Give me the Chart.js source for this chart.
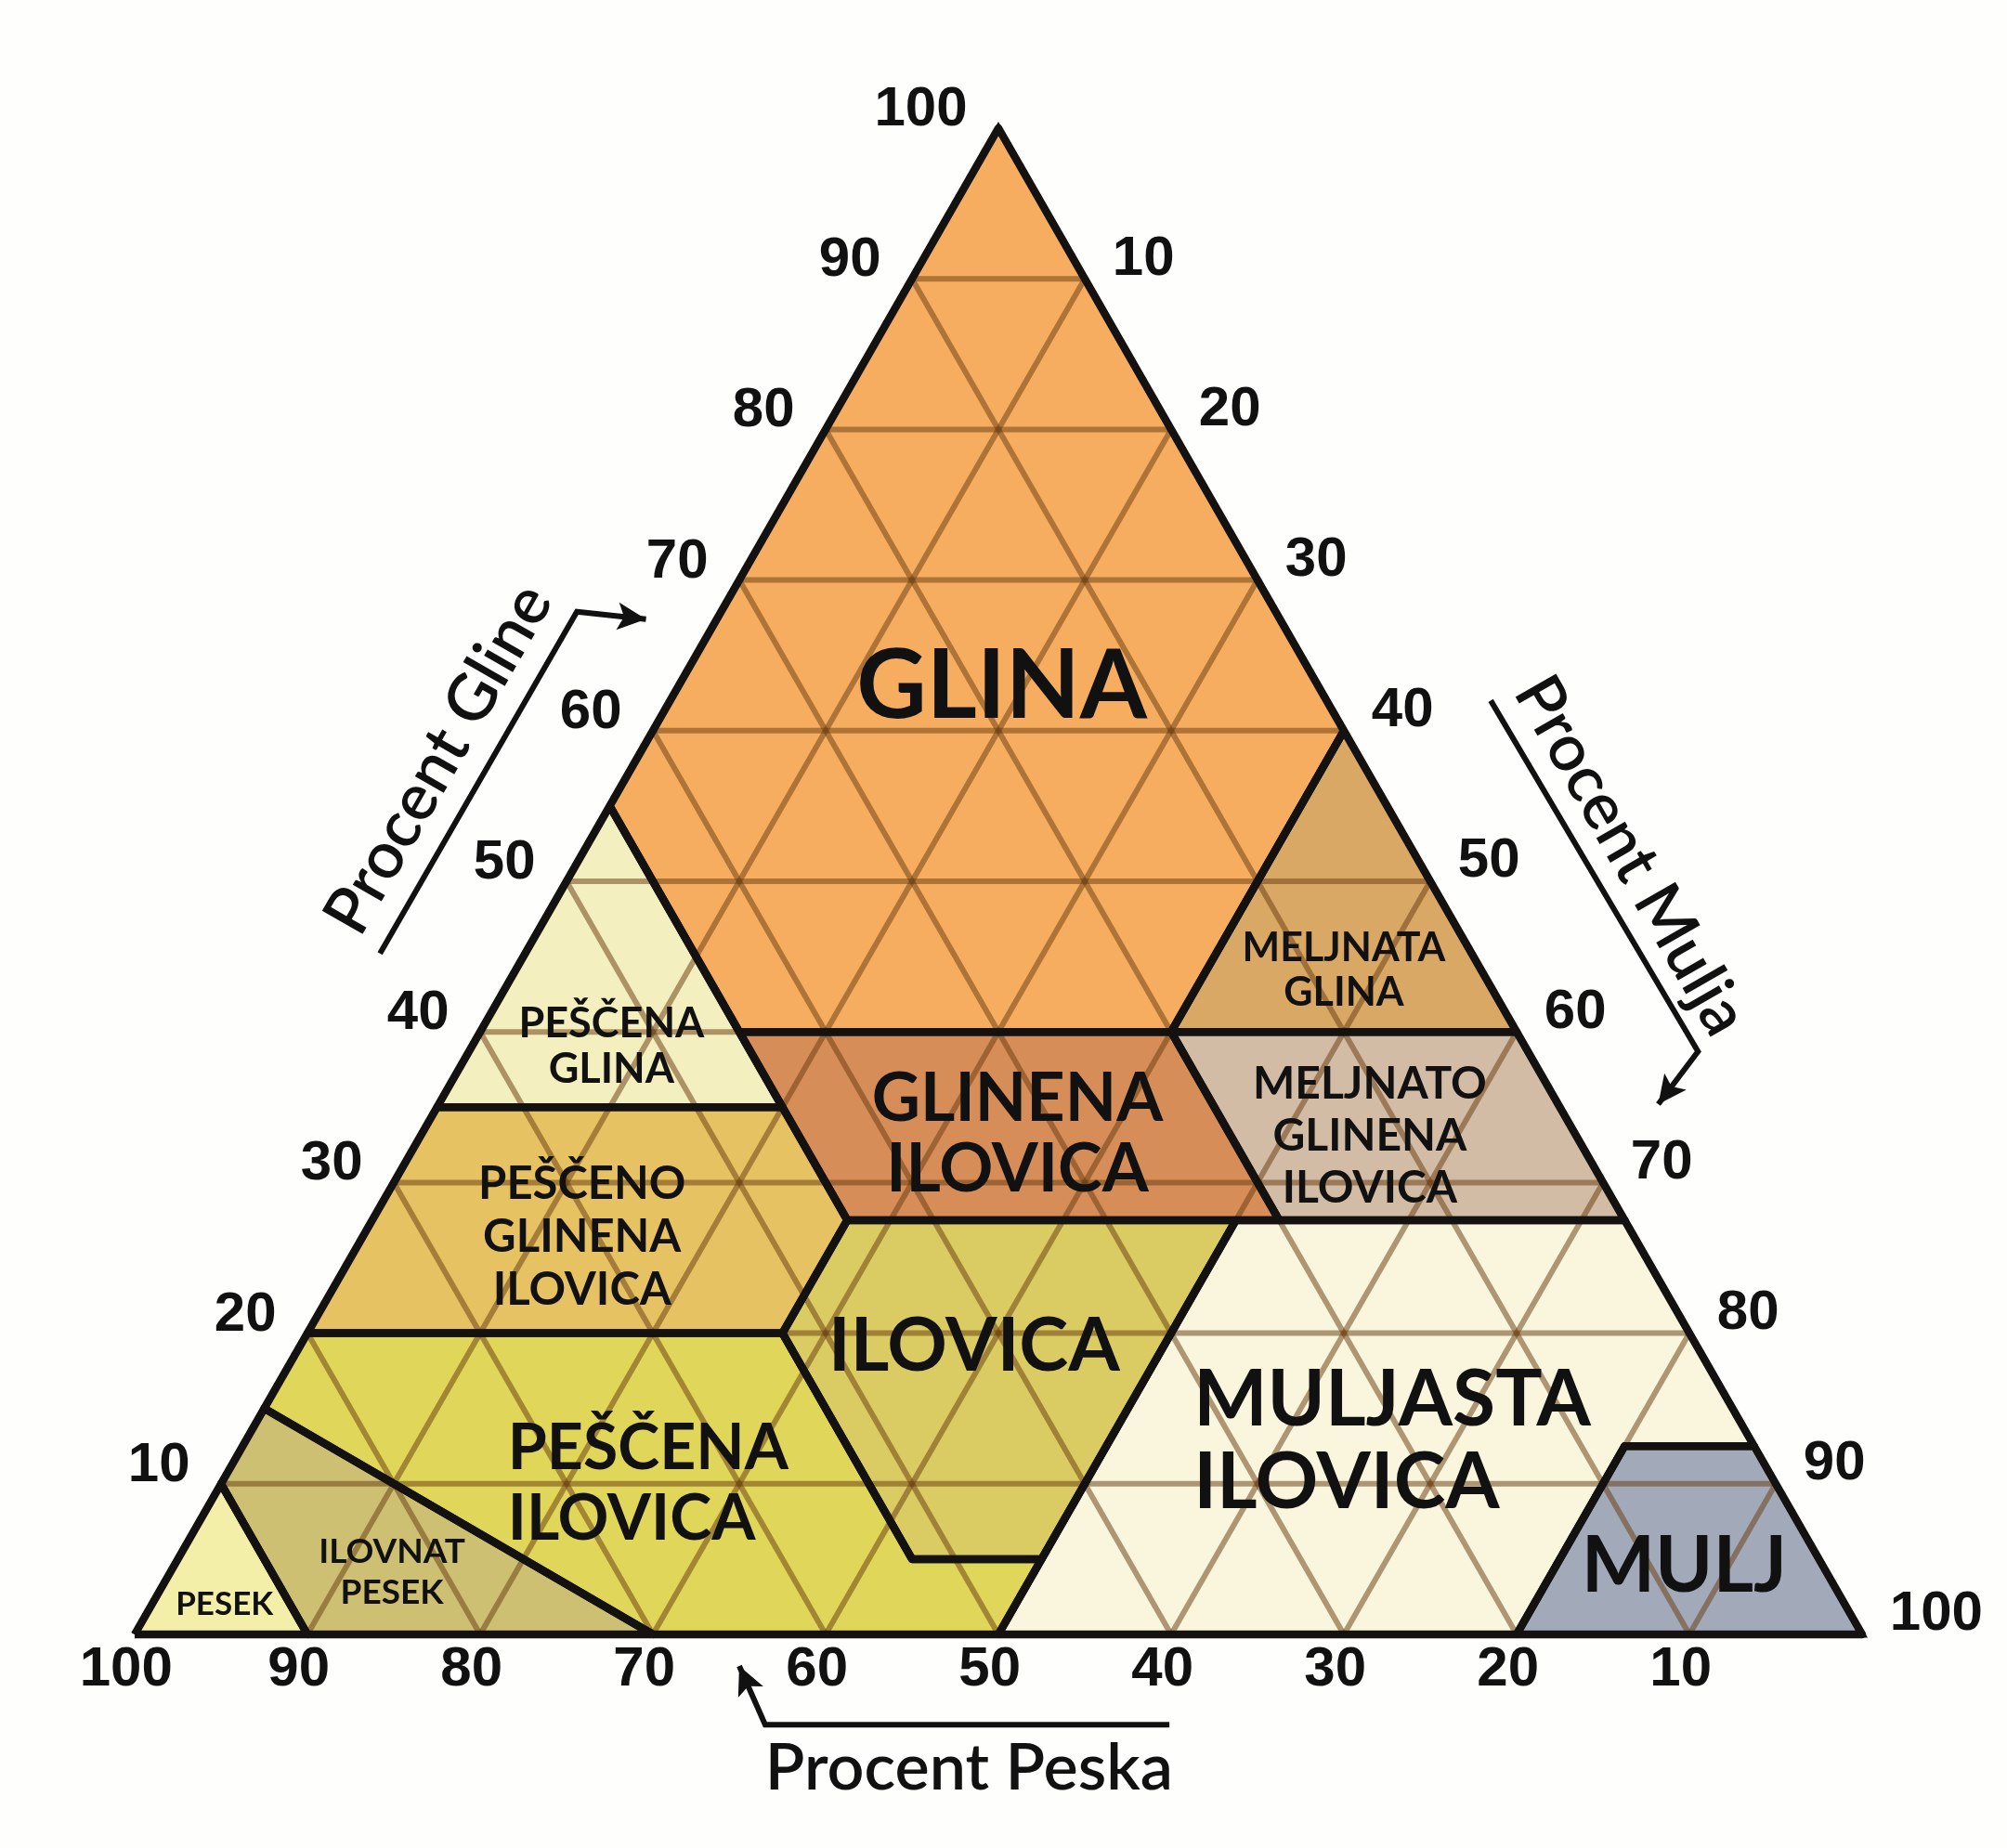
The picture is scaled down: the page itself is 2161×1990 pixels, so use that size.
<!DOCTYPE html>
<html>
<head>
<meta charset="utf-8">
<title>Teksturni trikotnik tal</title>
<script src="https://cdn.jsdelivr.net/npm/chart.js@4.4.1/dist/chart.umd.min.js"></script>
<style>
    html, body { margin: 0; padding: 0; background: #fefefc; }
    #wrap { width: 2161px; height: 1990px; }
</style>
</head>
<body>
<div id="wrap"><canvas id="soilChart" width="2161" height="1990"></canvas></div>
<script>
// texture classes, corners given as [sand %, clay %] (silt is what is left)
const pesek = [[100, 0], [90, 0], [90, 10]];
const ilovnatPesek = [[90, 0], [70, 0], [85, 15], [90, 10]];
const pescenaIlovica = [[70, 0], [50, 0], [45, 5], [52.5, 5], [52.5, 20], [80, 20], [85, 15]];
const pescenoGlinenaIlovica = [[80, 20], [52.5, 20], [45, 27.5], [45, 35], [65, 35]];
const pescenaGlina = [[65, 35], [45, 35], [45, 55]];
const glina = [[45, 55], [0, 100], [0, 60], [20, 40], [45, 40]];
const glinenaIlovica = [[45, 40], [20, 40], [20, 27.5], [45, 27.5]];
const meljnataGlina = [[0, 60], [0, 40], [20, 40]];
const meljnatoGlinenaIlovica = [[20, 40], [0, 40], [0, 27.5], [20, 27.5]];
const ilovica = [[45, 27.5], [22.5, 27.5], [45, 5], [52.5, 5], [52.5, 20]];
const muljastaIlovica = [[50, 0], [20, 0], [7.5, 12.5], [0, 12.5], [0, 27.5], [22.5, 27.5], [45, 5]];
const mulj = [[20, 0], [0, 0], [0, 12.5], [7.5, 12.5]];
const outline = [[100, 0], [0, 0], [0, 100]];

const gridSteps = [10, 20, 30, 40, 50, 60, 70, 80, 90];
const sandTicks = [100, 90, 80, 70, 60, 50, 40, 30, 20, 10];
const clayTicks = [10, 20, 30, 40, 50, 60, 70, 80, 90, 100];
const siltTicks = [10, 20, 30, 40, 50, 60, 70, 80, 90, 100];

const regions = [
    { pts: glina, color: '#f6ad60' },
    { pts: pescenaGlina, color: '#f4efbf' },
    { pts: pescenoGlinenaIlovica, color: '#e6c263' },
    { pts: glinenaIlovica, color: '#d78d57' },
    { pts: meljnataGlina, color: '#daa865' },
    { pts: meljnatoGlinenaIlovica, color: '#d3bca6' },
    { pts: ilovica, color: '#dacb62' },
    { pts: pescenaIlovica, color: '#e0d65a' },
    { pts: ilovnatPesek, color: '#cdc072' },
    { pts: pesek, color: '#f4efa8' },
    { pts: muljastaIlovica, color: '#faf6de' },
    { pts: mulj, color: '#a2aaba' }
];

// class names: lines, centre in [x, y] plot units, size, line gap, alignment
const classLabels = [
    { lines: ['GLINA'], at: [50.2, 62.9], size: 104, gap: 0 },
    { lines: ['PEŠČENA', 'GLINA'], at: [27.6, 39.0], size: 45, gap: 49 },
    { lines: ['GLINENA', 'ILOVICA'], at: [51.1, 33.2], size: 72, gap: 76 },
    { lines: ['MELJNATA', 'GLINA'], at: [70.0, 44.1], size: 43, gap: 48 },
    { lines: ['MELJNATO', 'GLINENA', 'ILOVICA'], at: [71.5, 33.1], size: 48, gap: 56 },
    { lines: ['PEŠČENO', 'GLINENA', 'ILOVICA'], at: [25.9, 26.4], size: 49, gap: 57 },
    { lines: ['ILOVICA'], at: [48.6, 19.1], size: 80, gap: 0 },
    { lines: ['PEŠČENA', 'ILOVICA'], at: [21.6, 10.0], size: 68, gap: 76, align: 'left' },
    { lines: ['MULJASTA', 'ILOVICA'], at: [61.3, 12.8], size: 84, gap: 89, align: 'left' },
    { lines: ['MULJ'], at: [89.7, 4.5], size: 84, gap: 0 },
    { lines: ['ILOVNAT', 'PESEK'], at: [14.9, 4.1], size: 37, gap: 44 },
    { lines: ['PESEK'], at: [5.2, 2.0], size: 35, gap: 0 }
];

const toXY = ([sand, clay]) => ({ x: 100 - sand - clay / 2, y: clay });
const closed = pts => pts.concat([pts[0]]).map(toXY);

const datasets = [];
regions.forEach(r => {
    datasets.push({
        data: closed(r.pts), fill: 'shape', backgroundColor: r.color,
        borderColor: r.color, borderWidth: 1, pointRadius: 0, order: 30
    });
});
gridSteps.forEach(v => {
    const lines = [
        [[100 - v, v], [0, v]],       // clay
        [[v, 0], [v, 100 - v]],       // sand
        [[100 - v, 0], [0, 100 - v]]  // silt
    ];
    lines.forEach(l => datasets.push({
        data: l.map(toXY), borderColor: 'rgba(105,62,18,0.52)', borderWidth: 6,
        fill: false, pointRadius: 0, order: 20
    }));
});
regions.forEach(r => {
    datasets.push({
        data: closed(r.pts), fill: false, borderColor: '#141210', borderWidth: 8.5,
        borderJoinStyle: 'round', pointRadius: 0, order: 10
    });
});
datasets.push({
    data: closed(outline), fill: false, borderColor: '#141210', borderWidth: 7,
    borderJoinStyle: 'miter', pointRadius: 0, order: 0
});

function arrow(ctx, pts, head) {
    ctx.beginPath();
    pts.forEach((p, i) => i ? ctx.lineTo(p[0], p[1]) : ctx.moveTo(p[0], p[1]));
    ctx.stroke();
    const [a, b] = pts.slice(-2);
    const ang = Math.atan2(b[1] - a[1], b[0] - a[0]);
    ctx.beginPath();
    ctx.moveTo(b[0], b[1]);
    ctx.lineTo(b[0] - head * Math.cos(ang - 0.45), b[1] - head * Math.sin(ang - 0.45));
    ctx.lineTo(b[0] - head * 0.7 * Math.cos(ang), b[1] - head * 0.7 * Math.sin(ang));
    ctx.lineTo(b[0] - head * Math.cos(ang + 0.45), b[1] - head * Math.sin(ang + 0.45));
    ctx.closePath();
    ctx.fill();
}

const ternaryText = {
    id: 'ternaryText',
    afterDatasetsDraw(chart) {
        const { ctx, scales: { x, y } } = chart;
        const P = (dx, dy) => [x.getPixelForValue(dx), y.getPixelForValue(dy)];
        ctx.save();
        ctx.fillStyle = '#111';
        ctx.strokeStyle = '#111';

        // tick numbers
        ctx.font = 'bold 60px "Liberation Sans", Arial, sans-serif';
        ctx.textBaseline = 'middle';
        ctx.textAlign = 'center';
        sandTicks.forEach(v => {
            const [px, py] = P(100 - v - 0.5, -2.35);
            ctx.fillText(String(v), px, py);
        });
        ctx.textAlign = 'right';
        clayTicks.forEach(v => {
            const [px, py] = P(v / 2 - 1.8, v + 1.2);
            ctx.fillText(String(v), px, py);
        });
        ctx.textAlign = 'left';
        siltTicks.forEach(v => {
            const [px, py] = P(50 + v / 2 + 1.6, 100 - v + 1.3);
            ctx.fillText(String(v), px, py);
        });

        // class names
        classLabels.forEach(l => {
            ctx.font = `bold ${l.size}px Lato, "Open Sans", sans-serif`;
            ctx.textAlign = l.align || 'center';
            const [px, py] = P(l.at[0], l.at[1]);
            const top = py - (l.lines.length - 1) * l.gap / 2;
            l.lines.forEach((t, i) => ctx.fillText(t, px, top + i * l.gap));
        });

        // axis titles along the three sides
        const [ax, ay] = P(0, 0);
        const [tx, ty] = P(50, 100);
        const edge = Math.atan2(ty - ay, tx - ax);
        ctx.font = '600 70px Lato, "Open Sans", sans-serif';
        ctx.textAlign = 'center';
        let [cx, cy] = P(17.6, 58.1);
        ctx.save(); ctx.translate(cx, cy); ctx.rotate(edge); ctx.fillText('Procent Gline', 0, 0); ctx.restore();
        [cx, cy] = P(86.6, 51.7);
        ctx.save(); ctx.translate(cx, cy); ctx.rotate(-edge); ctx.fillText('Procent Mulja', 0, 0); ctx.restore();
        [cx, cy] = P(48.3, -8.9);
        ctx.fillText('Procent Peska', cx, cy);

        ctx.lineWidth = 6;
        ctx.lineJoin = 'miter';
        arrow(ctx, [P(14.2, 45.2), P(25.6, 67.9), P(29.6, 67.4)], 34);
        arrow(ctx, [P(78.5, 62.0), P(90.5, 38.7), P(88.2, 35.2)], 34);
        arrow(ctx, [P(59.9, -6.0), P(36.5, -6.0), P(35.0, -2.1)], 34);
        ctx.restore();
    }
};

new Chart(document.getElementById('soilChart'), {
    type: 'line',
    data: { datasets },
    options: {
        responsive: false,
        animation: false,
        devicePixelRatio: 1,
        layout: { padding: { left: 145, right: 156, top: 138, bottom: 230 } },
        elements: { line: { tension: 0 } },
        scales: {
            x: { type: 'linear', min: 0, max: 100, display: false },
            y: { type: 'linear', min: 0, max: 100, display: false }
        },
        plugins: { legend: { display: false }, tooltip: { enabled: false } },
        datasets: { line: { clip: false } }
    },
    plugins: [ternaryText]
});
</script>
</body>
</html>
